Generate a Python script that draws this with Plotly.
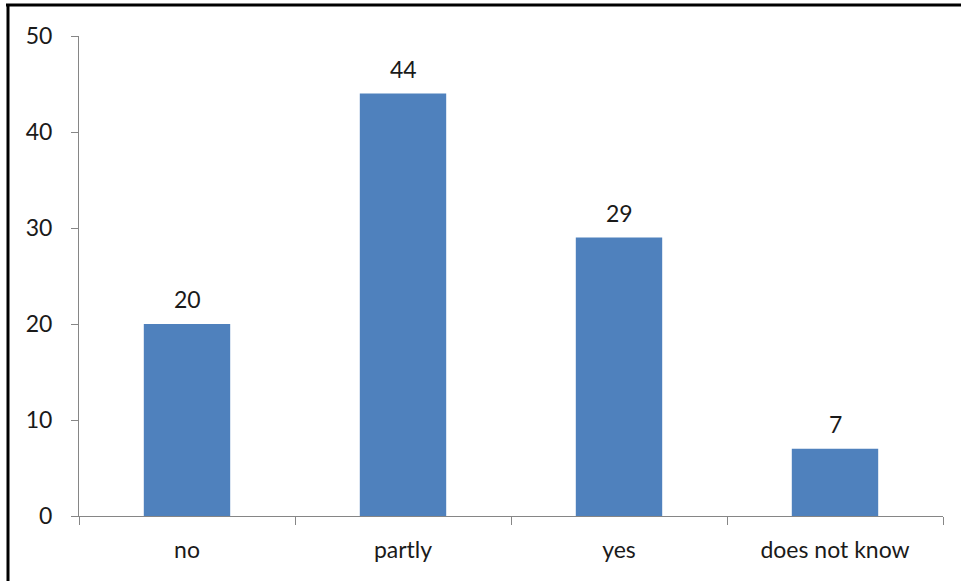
import plotly.graph_objects as go

categories = ["no", "partly", "yes", "does not know"]
values = [20, 44, 29, 7]
y_ticks = [0, 10, 20, 30, 40, 50]

W, H = 961, 581
ml, mr, mt, mb = 79, 18, 36, 65
pw, ph = W - ml - mr, H - mt - mb
FONT = "Lato, Open Sans, sans-serif"
FS = 23

fig = go.Figure(go.Bar(
    x=categories, y=values, width=0.4,
    marker=dict(color="#4F81BD", line=dict(width=0)),
    cliponaxis=False, hoverinfo="x+y",
))

for c, v in zip(categories, values):
    fig.add_annotation(x=c, y=v, text=str(v), showarrow=False,
                       yanchor="bottom", yshift=9,
                       font=dict(family=FONT, size=FS, color="#1a1a1a"))

def px_x(p):
    return (p - ml) / pw

def px_y(p):
    return (H - mb - p) / ph

fig.update_layout(
    width=W, height=H,
    margin=dict(l=ml, r=mr, t=mt, b=mb, pad=0),
    paper_bgcolor="white", plot_bgcolor="white",
    showlegend=False,
    font=dict(family=FONT, size=FS, color="#1a1a1a"),
    xaxis=dict(showline=True, linecolor="#868686", linewidth=1,
               ticks="outside", tickson="boundaries", ticklen=8, tickcolor="#868686",
               showgrid=False, tickfont=dict(size=FS), ticklabelstandoff=13),
    yaxis=dict(range=[0, 50], tickvals=y_ticks, showline=True, linecolor="#868686",
               linewidth=1, ticks="outside", ticklen=7, tickcolor="#868686",
               showgrid=False, zeroline=False, tickfont=dict(size=FS),
               ticklabelstandoff=14),
    shapes=[
        dict(type="line", xref="paper", yref="paper", x0=px_x(6), x1=px_x(965),
             y0=px_y(5), y1=px_y(5), line=dict(color="black", width=3)),
        dict(type="line", xref="paper", yref="paper", x0=px_x(8), x1=px_x(8),
             y0=px_y(4), y1=px_y(590), line=dict(color="black", width=3)),
    ],
)

fig.write_html("out.html", config={"displayModeBar": False},
               post_script="document.body.style.margin='0';")
